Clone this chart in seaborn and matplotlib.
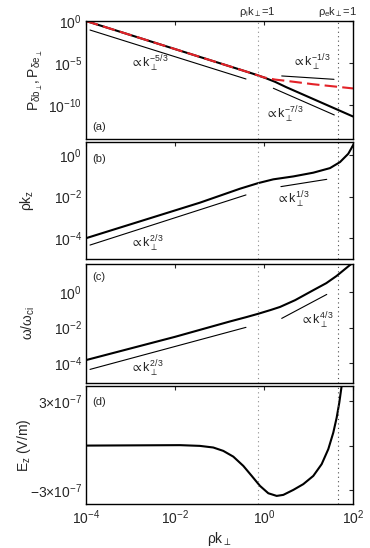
import numpy as np
import matplotlib
matplotlib.use("Agg")
import matplotlib.pyplot as plt
import seaborn as sns

# ---- data (log10 values) ----
# (a) power spectra
logk_b = [-4, -0.5, -0.25, 0, 0.25, 0.5, 2]
logP_b = [0, -5.83, -6.25, -6.70, -7.22, -7.85, -11.33]
logk_e = [-4, -0.5, -0.25, 0, 0.25, 0.5, 1.1, 2]
logP_e = [0, -5.83, -6.25, -6.70, -6.95, -7.10, -7.50, -8.0]

# (b) rho k_z
logk_kz = [-4, -1.438, -0.539, -0.128, 0.209, 0.659, 1.108, 1.483, 1.708, 1.894, 2.02]
log_kz = [-4, -2.29, -1.62, -1.35, -1.17, -1.03, -0.85, -0.63, -0.34, 0.06, 0.54]

# (c) omega / omega_ci
logk_w = [-4, -2, -0.764, -0.4, -0.128, 0.15, 0.36, 0.7, 1.11, 1.4, 1.63, 1.93, 2.0]
log_w = [-3.82, -2.52, -1.66, -1.42, -1.23, -1.02, -0.85, -0.47, 0.09, 0.48, 0.88, 1.49, 1.62]

# (d) E_z in units of 1e-7 V/m
logk_ez = [-4, -1.888, -1.44, -1.14, -0.915, -0.69, -0.465, -0.276, -0.09, 0.097, 0.285,
           0.434, 0.66, 0.883, 1.108, 1.296, 1.445, 1.557, 1.633, 1.692, 1.745]
ez = [0, 0.03, -0.02, -0.13, -0.36, -0.75, -1.38, -2.06, -2.74, -3.24, -3.42,
      -3.35, -3.01, -2.62, -2.06, -1.26, -0.24, 0.88, 1.90, 2.92, 4.06]

# reference power-law segments: (logk start, logk end, logy start, logy end)
ref_a = [(-3.91, -0.405, -1.07, -6.88), (0.398, 1.573, -6.52, -6.92), (0.21, 1.58, -7.98, -11.15)]
ref_b = [(-3.91, -0.405, -4.33, -1.92), (0.38, 1.41, -1.52, -1.17)]
ref_c = [(-3.91, -0.405, -4.34, -1.99), (0.398, 1.41, -1.49, -0.15)]

# labels of the reference lines: (text, logk, logy)
lab_a = [(r"$\propto k_\perp^{-5/3}$", -3.01, -5.1), (r"$\propto k_\perp^{-1/3}$", 0.62, -5.02),
         (r"$\propto k_\perp^{-7/3}$", 0.02, -11.1)]
lab_b = [(r"$\propto k_\perp^{2/3}$", -3.01, -4.28), (r"$\propto k_\perp^{1/3}$", 0.28, -2.16)]
lab_c = [(r"$\propto k_\perp^{2/3}$", -3.01, -4.32), (r"$\propto k_\perp^{4/3}$", 0.81, -1.61)]

rho_i_k = 0.72
rho_e_k = 45.0

# ---- style ----
sns.set_theme(style="white")
plt.rcParams["font.family"] = ["Liberation Sans", "DejaVu Sans"]
plt.rcParams["mathtext.fontset"] = "custom"
plt.rcParams["mathtext.rm"] = "Liberation Sans"
plt.rcParams["mathtext.it"] = "Liberation Sans"
plt.rcParams["mathtext.bf"] = "Liberation Sans:bold"
plt.rcParams["mathtext.fallback"] = "stixsans"

fig = plt.figure(figsize=(3.70, 5.48), dpi=100)
W, H = 370.0, 548.0
left, width = 86 / W, 267 / W
rows = [(21, 139), (142, 259), (264, 383), (386, 504)]
axes = [fig.add_axes([left, 1 - b / H, width, (b - t) / H]) for t, b in rows]
ax_a, ax_b, ax_c, ax_d = axes

p = lambda v: 10 ** np.asarray(v, dtype=float)
lw_main = 1.5
lw_ref = 0.8

for ax in axes:
    ax.set_xscale("log")

# (a)
sns.lineplot(x=p(logk_b), y=p(logP_b), ax=ax_a, color="black", lw=lw_main, sort=False, estimator=None)
sns.lineplot(x=p(logk_e), y=p(logP_e), ax=ax_a, color="#e32228", lw=lw_main, sort=False, estimator=None,
             dashes=False, linestyle=(0, (6, 2.5)))
ax_a.set_yscale("log")
for x0, x1, y0, y1 in ref_a:
    ax_a.plot(p([x0, x1]), p([y0, y1]), color="black", lw=lw_ref)
for s, x, y in lab_a:
    ax_a.text(10 ** x, 10 ** y, s, fontsize=9, ha="left", va="center")
ax_a.set_ylim(1e-14, 1e0)
ax_a.set_yticks([1e0, 1e-5, 1e-10], [r"$10^{0}$", r"$10^{-5}$", r"$10^{-10}$"])
ax_a.set_ylabel(r"$P_{\delta b_\perp}, P_{\delta e_\perp}$", fontsize=10)
ax_a.yaxis.set_label_coords(-0.155, 0.5)

# (b)
sns.lineplot(x=p(logk_kz), y=p(log_kz), ax=ax_b, color="black", lw=lw_main, sort=False, estimator=None)
ax_b.set_yscale("log")
for x0, x1, y0, y1 in ref_b:
    ax_b.plot(p([x0, x1]), p([y0, y1]), color="black", lw=lw_ref)
for s, x, y in lab_b:
    ax_b.text(10 ** x, 10 ** y, s, fontsize=9, ha="left", va="center")
ax_b.set_ylim(1e-5, 10 ** 0.625)
ax_b.set_yticks([1e0, 1e-2, 1e-4], [r"$10^{0}$", r"$10^{-2}$", r"$10^{-4}$"])
ax_b.set_ylabel(r"$\rho k_z$", fontsize=10)
ax_b.yaxis.set_label_coords(-0.187, 0.5)

# (c)
sns.lineplot(x=p(logk_w), y=p(log_w), ax=ax_c, color="black", lw=lw_main, sort=False, estimator=None)
ax_c.set_yscale("log")
for x0, x1, y0, y1 in ref_c:
    ax_c.plot(p([x0, x1]), p([y0, y1]), color="black", lw=lw_ref)
for s, x, y in lab_c:
    ax_c.text(10 ** x, 10 ** y, s, fontsize=9, ha="left", va="center")
ax_c.set_ylim(10 ** -5.1, 10 ** 1.55)
ax_c.set_yticks([1e0, 1e-2, 1e-4], [r"$10^{0}$", r"$10^{-2}$", r"$10^{-4}$"])
ax_c.set_ylabel(r"$\omega/\omega_{ci}$", fontsize=10)
ax_c.yaxis.set_label_coords(-0.183, 0.5)

# (d)
sns.lineplot(x=p(logk_ez), y=np.array(ez) * 1e-7, ax=ax_d, color="black", lw=lw_main, sort=False, estimator=None)
ax_d.set_ylim(-3.97e-7, 4.05e-7)
ax_d.set_yticks([-3e-7, 0, 3e-7], [r"$-3{\times}10^{-7}$", "", r"$3{\times}10^{-7}$"])
ax_d.set_ylabel(r"$E_z$ (V/m)", fontsize=10)
ax_d.yaxis.set_label_coords(-0.198, 0.5)
ax_d.set_xlabel(r"$\rho k_\perp$", fontsize=10, labelpad=2)

for ax, tag, ty in zip(axes, ["(a)", "(b)", "(c)", "(d)"], [0.10, 0.855, 0.89, 0.864]):
    ax.set_xlim(1e-4, 1e2)
    ax.set_xticks([1e-4, 1e-2, 1e0, 1e2])
    ax.minorticks_off()
    ax.text(0.022, ty, tag, transform=ax.transAxes, fontsize=8, ha="left", va="center")
    ax.axvline(rho_i_k, color="0.55", ls=(0, (1, 3)), lw=0.8)
    ax.axvline(rho_e_k, color="0.3", ls=(0, (1, 3)), lw=0.8)
    ax.tick_params(which="both", direction="in", top=True, right=True, length=3, width=0.8,
                   labelsize=10, pad=3)
    for sp in ax.spines.values():
        sp.set_color("black")
        sp.set_linewidth(1.0)
    if ax is not ax_d:
        ax.set_xticklabels([])
        ax.set_xlabel("")
ax_d.set_xticklabels([r"$10^{-4}$", r"$10^{-2}$", r"$10^{0}$", r"$10^{2}$"])

ax_a.text(rho_i_k, 1.075, r"$\rho_i k_\perp$=1", transform=ax_a.get_xaxis_transform(),
          fontsize=8, ha="center", va="center")
ax_a.text(rho_e_k, 1.075, r"$\rho_e k_\perp$=1", transform=ax_a.get_xaxis_transform(),
          fontsize=8, ha="center", va="center")

fig.savefig("out.png", dpi=100)
